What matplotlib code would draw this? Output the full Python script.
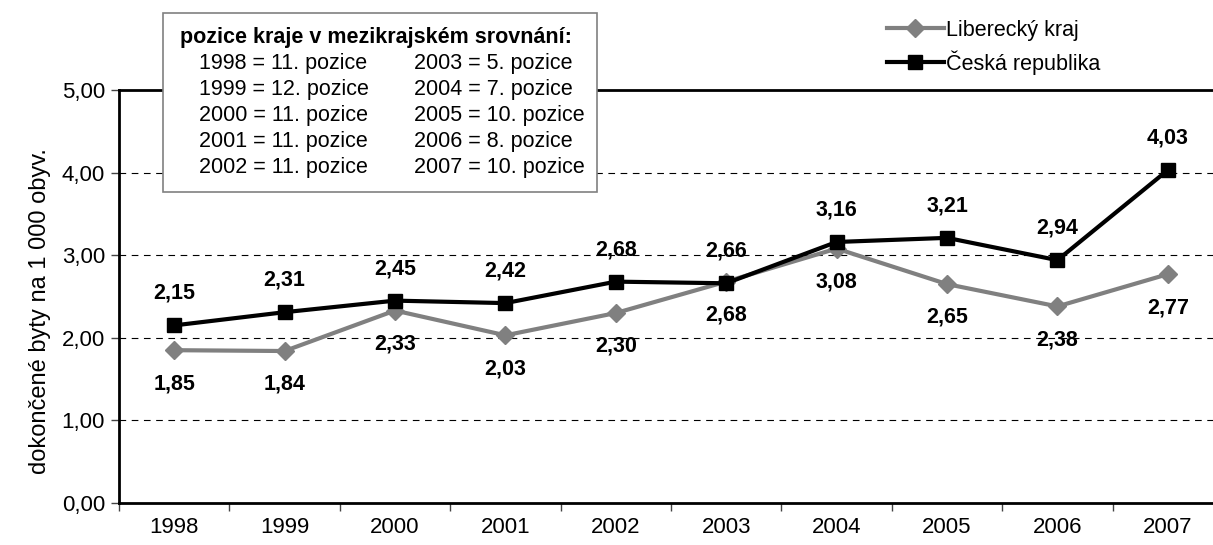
import matplotlib
matplotlib.use("Agg")
import matplotlib.pyplot as plt

years = ["1998", "1999", "2000", "2001", "2002", "2003", "2004", "2005", "2006", "2007"]
liberec = [1.85, 1.84, 2.33, 2.03, 2.30, 2.68, 3.08, 2.65, 2.38, 2.77]
cr = [2.15, 2.31, 2.45, 2.42, 2.68, 2.66, 3.16, 3.21, 2.94, 4.03]
positions_left = ["1998 = 11. pozice", "1999 = 12. pozice", "2000 = 11. pozice",
                  "2001 = 11. pozice", "2002 = 11. pozice"]
positions_right = ["2003 = 5. pozice", "2004 = 7. pozice", "2005 = 10. pozice",
                   "2006 = 8. pozice", "2007 = 10. pozice"]
box_title = "pozice kraje v mezikrajském srovnání:"
yticks = [0, 1, 2, 3, 4, 5]

plt.rcParams['font.family'] = ['Liberation Sans', 'DejaVu Sans']

W, H = 1213, 545
fig = plt.figure(figsize=(W / 100, H / 100), dpi=100)
left, right, top, bottom = 119, 1223, 90, 503
ax = fig.add_axes([left / W, 1 - bottom / H, (right - left) / W, (bottom - top) / H])

x = list(range(len(years)))
ax.set_xlim(-0.5, len(years) - 0.5)
ax.set_ylim(0, 5)

for yv in yticks[1:-1]:
    ax.axhline(yv, color='black', lw=0.8, ls=(0, (6, 5)), zorder=1)

ax.plot(x, liberec, color='#808080', lw=3, marker='D', markersize=9.5,
        label='Liberecký kraj', zorder=3)
ax.plot(x, cr, color='black', lw=3, marker='s', markersize=10.5,
        label='Česká republika', zorder=4)

for i in x:
    ax.annotate(f"{cr[i]:.2f}".replace('.', ','), (i, cr[i]), xytext=(0, 23),
                textcoords='offset points', ha='center', va='center',
                fontsize=15.5, fontweight='bold', zorder=5)
    ax.annotate(f"{liberec[i]:.2f}".replace('.', ','), (i, liberec[i]), xytext=(0, -24),
                textcoords='offset points', ha='center', va='center',
                fontsize=15.5, fontweight='bold', zorder=5)

ax.set_yticks(yticks)
ax.set_yticklabels([f"{v:.2f}".replace('.', ',') for v in yticks], fontsize=16)
ax.set_xticks([i - 0.5 for i in range(len(years) + 1)], minor=False)
ax.set_xticklabels([])
ax.set_xticks(x, minor=True)
ax.set_xticklabels(years, minor=True, fontsize=16)
ax.tick_params(axis='x', which='minor', length=0, pad=10)
ax.tick_params(axis='x', which='major', length=6, width=1, color='#444444', direction='out')
ax.tick_params(axis='y', length=6, width=1, color='#444444', direction='out', pad=4)

for s in ['left', 'bottom', 'top']:
    ax.spines[s].set_linewidth(2)
    ax.spines[s].set_color('black')
ax.spines['right'].set_visible(False)

fig.text(40 / W, 1 - 311 / H, "dokončené byty na 1 000 obyv.", rotation=90,
         ha='center', va='center', fontsize=17)

# text box
bx0, by0, bx1, by1 = 163, 13, 597, 192
fig.patches.append(plt.Rectangle((bx0 / W, 1 - by1 / H), (bx1 - bx0) / W, (by1 - by0) / H,
                                 transform=fig.transFigure, facecolor='white',
                                 edgecolor='#808080', lw=1.2, zorder=10))
fig.text(180 / W, 1 - 38 / H, box_title, fontsize=15.5, fontweight='bold',
         ha='left', va='center', zorder=11)
for k, (a, b) in enumerate(zip(positions_left, positions_right)):
    yy = 1 - (64 + 26 * k) / H
    fig.text(199 / W, yy, a, fontsize=15.5, ha='left', va='center', zorder=11)
    fig.text(414 / W, yy, b, fontsize=15.5, ha='left', va='center', zorder=11)

leg = fig.legend(loc='upper left', bbox_to_anchor=(878 / W, 1 - 11 / H), frameon=False,
                 fontsize=15.5, handlelength=2.65, handletextpad=0.1, labelspacing=0.45,
                 borderaxespad=0)

fig.savefig("out.png", dpi=100)
